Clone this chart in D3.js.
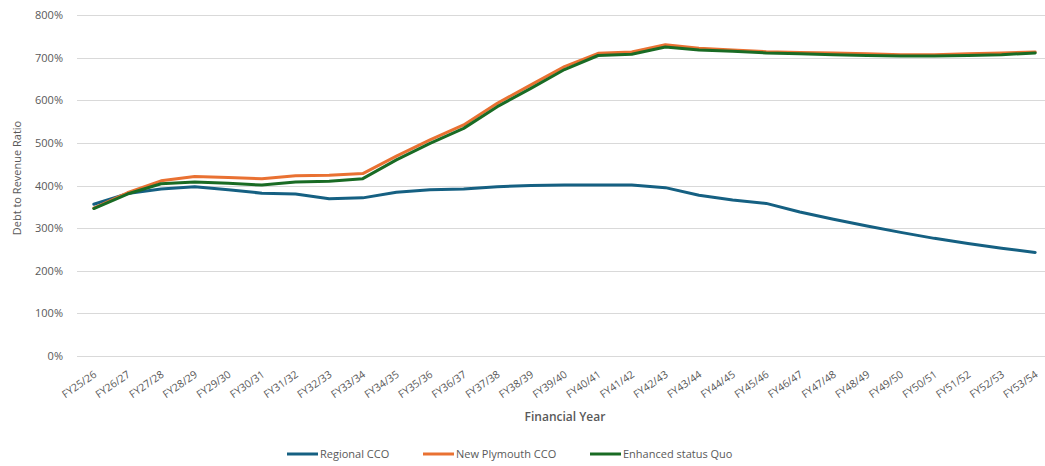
<!DOCTYPE html>
<html>
<head>
<meta charset="utf-8">
<script src="https://cdn.jsdelivr.net/npm/d3@7"></script>
<style>
  html, body { margin: 0; padding: 0; background: #fff; }
  svg { display: block; }
  text { font-family: "Open Sans", "Liberation Sans", sans-serif; fill: #595959; }
</style>
</head>
<body>
<div id="chart"></div>
<script>
// Financial years on the category axis
const years = [
  "FY25/26","FY26/27","FY27/28","FY28/29","FY29/30","FY30/31","FY31/32","FY32/33",
  "FY33/34","FY34/35","FY35/36","FY36/37","FY37/38","FY38/39","FY39/40","FY40/41",
  "FY41/42","FY42/43","FY43/44","FY44/45","FY45/46","FY46/47","FY47/48","FY48/49",
  "FY49/50","FY50/51","FY51/52","FY52/53","FY53/54"
];

// Debt to revenue ratio (%) for each option
const regionalCCO = [
  356, 381, 392, 397, 390, 382, 380, 369, 371, 384, 390, 392, 397, 400, 401,
  401, 401, 395, 377, 366, 358, 338, 321, 305, 290, 276, 264, 253, 243
];
const newPlymouthCCO = [
  347, 383, 411, 421, 419, 416, 423, 424, 428, 469, 507, 542, 593, 636, 679,
  710, 713, 730, 722, 718, 714, 712, 711, 709, 707, 707, 709, 711, 713
];
const enhancedStatusQuo = [
  346, 380, 404, 408, 405, 401, 408, 410, 416, 460, 499, 534, 585, 628, 672,
  705, 708, 725, 718, 715, 711, 709, 707, 705, 704, 704, 705, 707, 711
];

const yTicks = [0, 100, 200, 300, 400, 500, 600, 700, 800];

const seriesNames = ["Regional CCO", "New Plymouth CCO", "Enhanced status Quo"];
const seriesColors = ["#156082", "#E97132", "#196B24"];
const seriesValues = [regionalCCO, newPlymouthCCO, enhancedStatusQuo];

const width = 1045, height = 466;
const plot = { left: 77, right: 1052, top: 15, bottom: 356 };

const svg = d3.select("#chart").append("svg")
  .attr("width", width).attr("height", height);

const x = d3.scalePoint().domain(years).range([plot.left, plot.right]).padding(0.5);
const y = d3.scaleLinear().domain([0, 800]).range([plot.bottom, plot.top]);

// Horizontal gridlines
svg.append("g").selectAll("line").data(yTicks).join("line")
  .attr("x1", plot.left).attr("x2", plot.right)
  .attr("y1", d => Math.round(y(d)) + 0.5).attr("y2", d => Math.round(y(d)) + 0.5)
  .attr("stroke", "#d9d9d9").attr("stroke-width", 1);

// Y axis labels
const yAxis = d3.axisLeft(y).tickValues(yTicks).tickFormat(d => d + "%").tickSize(0).tickPadding(0);
const yg = svg.append("g").attr("transform", `translate(${plot.left - 14},0)`).call(yAxis);
yg.select(".domain").remove();
yg.selectAll("text").style("font-size", "11px").style("fill", "#595959")
  .style("font-family", "'Open Sans', 'Liberation Sans', sans-serif");

// X axis labels, rotated
const xAxis = d3.axisBottom(x).tickSize(0).tickPadding(0);
const xg = svg.append("g").attr("transform", `translate(0,${plot.bottom})`).call(xAxis);
xg.select(".domain").remove();
xg.selectAll("text")
  .attr("text-anchor", "end")
  .attr("dy", null)
  .attr("y", 0)
  .attr("transform", "translate(3,20) rotate(-35)")
  .style("font-size", "10.5px").style("fill", "#595959")
  .style("font-family", "'Open Sans', 'Liberation Sans', sans-serif");

// Lines
const line = d3.line().x((d, i) => x(years[i])).y(d => y(d));
svg.append("g").selectAll("path").data(seriesValues).join("path")
  .attr("d", d => line(d))
  .attr("fill", "none")
  .attr("stroke", (d, i) => seriesColors[i])
  .attr("stroke-width", 3)
  .attr("stroke-linejoin", "round")
  .attr("stroke-linecap", "round");

// Axis titles
svg.append("text")
  .attr("transform", `translate(21,178) rotate(-90)`)
  .attr("text-anchor", "middle")
  .style("font-size", "11px")
  .text("Debt to Revenue Ratio");

svg.append("text")
  .attr("x", 565).attr("y", 421)
  .attr("text-anchor", "middle")
  .style("font-size", "12px").style("font-weight", "600")
  .text("Financial Year");

// Legend
const legendX = [287, 423, 590];
const lg = svg.append("g").selectAll("g").data(seriesNames).join("g")
  .attr("transform", (d, i) => `translate(${legendX[i]},454)`);
lg.append("line").attr("x1", 0).attr("x2", 31).attr("y1", 0).attr("y2", 0)
  .attr("stroke", (d, i) => seriesColors[i]).attr("stroke-width", 3);
lg.append("text").attr("x", 33).attr("y", 4)
  .style("font-size", "11px")
  .text(d => d);
</script>
</body>
</html>
